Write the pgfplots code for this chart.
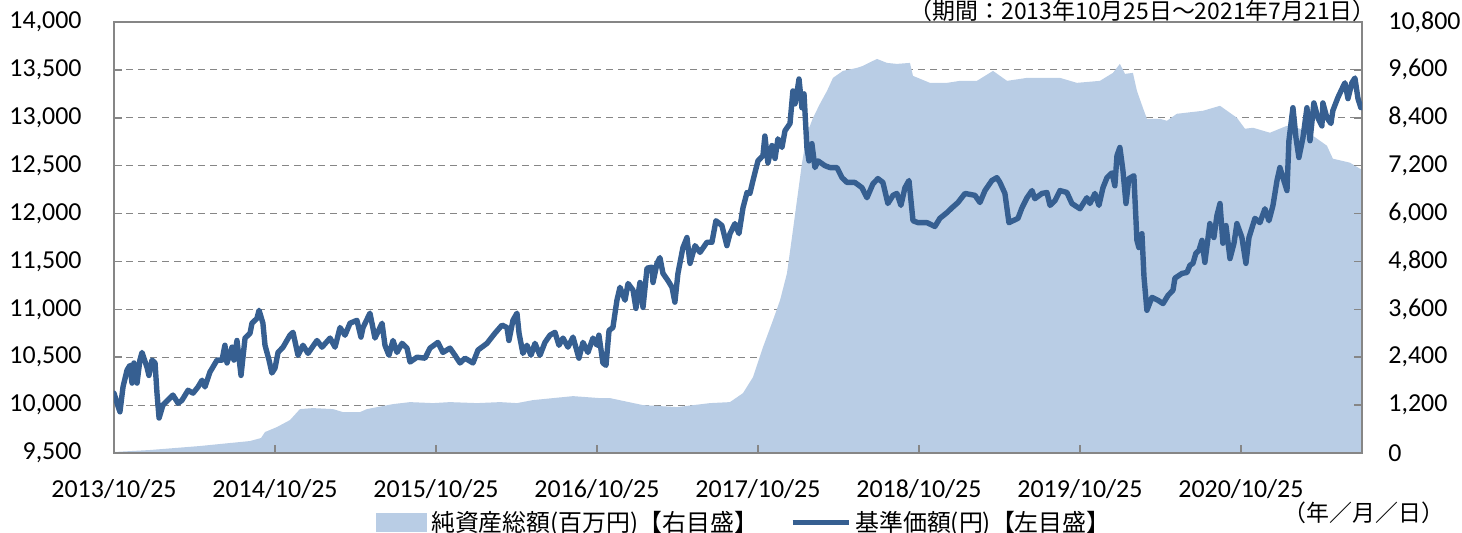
\documentclass[border=0pt]{standalone}
\usepackage{pgfplots}
\pgfplotsset{compat=1.18}
\usepackage{pgfplotstable}
\usepackage{fontspec}
\setmainfont{Carlito}
\newfontfamily\jp{Noto Sans CJK JP}
\definecolor{navcol}{RGB}{54,95,145}
\definecolor{areacol}{RGB}{185,205,229}
\definecolor{axgray}{RGB}{134,134,134}

\pgfplotstableread{
x y
0.000 10125
0.019 10020
0.037 9930
0.056 10190
0.081 10365
0.099 10415
0.112 10230
0.124 10440
0.143 10230
0.161 10470
0.174 10550
0.205 10395
0.217 10310
0.236 10470
0.255 10440
0.267 10125
0.280 9865
0.304 10000
0.348 10075
0.366 10105
0.398 10020
0.422 10050
0.460 10155
0.491 10125
0.522 10190
0.547 10260
0.565 10190
0.596 10345
0.640 10470
0.671 10470
0.689 10625
0.702 10440
0.733 10605
0.745 10470
0.764 10675
0.789 10310
0.814 10700
0.845 10750
0.857 10855
0.888 10905
0.901 10990
0.925 10855
0.938 10625
0.963 10470
0.981 10335
1.000 10385
1.019 10550
1.050 10605
1.093 10730
1.112 10760
1.143 10520
1.174 10625
1.205 10540
1.261 10675
1.292 10605
1.342 10700
1.373 10605
1.404 10810
1.435 10730
1.466 10855
1.509 10885
1.534 10710
1.547 10810
1.590 10960
1.621 10700
1.665 10855
1.683 10625
1.708 10520
1.733 10675
1.758 10550
1.789 10645
1.820 10595
1.839 10450
1.882 10500
1.932 10490
1.963 10595
2.012 10655
2.043 10550
2.087 10595
2.118 10520
2.149 10440
2.180 10490
2.230 10440
2.261 10575
2.317 10645
2.366 10750
2.410 10835
2.441 10810
2.453 10675
2.478 10885
2.503 10960
2.516 10750
2.540 10540
2.565 10625
2.590 10520
2.615 10645
2.646 10520
2.677 10655
2.708 10730
2.739 10760
2.764 10625
2.789 10700
2.820 10605
2.851 10710
2.888 10490
2.913 10655
2.944 10550
2.975 10700
3.000 10625
3.012 10730
3.037 10440
3.056 10415
3.075 10780
3.099 10810
3.124 11095
3.143 11230
3.174 11095
3.193 11270
3.224 11200
3.242 11010
3.267 11280
3.286 11020
3.311 11430
3.342 11440
3.348 11280
3.373 11480
3.391 11540
3.410 11375
3.441 11300
3.466 11230
3.484 11075
3.503 11375
3.534 11645
3.559 11750
3.578 11480
3.609 11665
3.640 11595
3.683 11700
3.714 11700
3.739 11925
3.776 11875
3.807 11665
3.826 11790
3.857 11895
3.882 11790
3.907 12060
3.932 12220
3.950 12210
3.969 12345
4.000 12550
4.031 12605
4.043 12810
4.062 12530
4.087 12710
4.106 12575
4.124 12780
4.149 12690
4.168 12865
4.199 12940
4.217 13280
4.230 13145
4.242 13260
4.255 13405
4.273 13105
4.286 13250
4.304 12690
4.317 12550
4.335 12730
4.354 12480
4.373 12550
4.416 12500
4.447 12480
4.491 12480
4.522 12375
4.553 12325
4.602 12325
4.646 12270
4.677 12165
4.714 12310
4.745 12365
4.776 12325
4.807 12105
4.839 12190
4.863 12210
4.888 12085
4.913 12270
4.938 12345
4.963 11925
4.994 11905
5.050 11905
5.099 11865
5.130 11950
5.174 12010
5.205 12060
5.242 12115
5.286 12210
5.348 12190
5.379 12115
5.410 12240
5.453 12345
5.484 12375
5.503 12325
5.534 12210
5.559 11905
5.584 11925
5.615 11950
5.640 12060
5.671 12165
5.702 12240
5.720 12155
5.764 12210
5.795 12220
5.814 12085
5.845 12135
5.876 12240
5.919 12220
5.950 12105
6.000 12050
6.043 12165
6.062 12105
6.093 12210
6.118 12085
6.143 12270
6.168 12375
6.199 12425
6.217 12290
6.230 12605
6.248 12690
6.267 12450
6.286 12105
6.304 12365
6.335 12395
6.354 11720
6.366 11645
6.385 11790
6.398 11335
6.416 10990
6.447 11125
6.484 11095
6.516 11060
6.547 11145
6.578 11200
6.590 11325
6.634 11375
6.665 11385
6.683 11460
6.702 11480
6.720 11585
6.739 11615
6.758 11720
6.776 11490
6.807 11895
6.832 11750
6.851 11980
6.870 12105
6.888 11690
6.907 11875
6.932 11530
6.957 11690
6.975 11895
7.006 11750
7.031 11480
7.050 11750
7.087 11950
7.118 11905
7.149 12050
7.174 11925
7.199 12085
7.224 12345
7.242 12480
7.261 12375
7.286 12240
7.298 12760
7.323 13105
7.342 12790
7.360 12585
7.385 12790
7.410 13105
7.429 12760
7.453 13155
7.478 13000
7.503 12915
7.509 13155
7.534 13000
7.559 12940
7.571 13075
7.602 13210
7.627 13300
7.646 13365
7.665 13200
7.689 13365
7.708 13415
7.727 13200
7.745 13105
}\navdata

\pgfplotstableread{
x y
0.000 25
0.224 75
0.534 175
0.845 300
0.913 375
0.938 525
1.012 650
1.093 825
1.155 1100
1.236 1125
1.360 1100
1.422 1025
1.528 1025
1.571 1100
1.733 1225
1.839 1275
1.981 1250
2.087 1275
2.255 1250
2.398 1275
2.503 1250
2.602 1325
2.851 1425
3.019 1375
3.081 1375
3.286 1200
3.497 1150
3.702 1250
3.826 1275
3.907 1500
3.969 1900
4.031 2650
4.093 3325
4.137 3825
4.180 4500
4.211 5400
4.242 6325
4.273 7250
4.304 8000
4.342 8400
4.385 8750
4.429 9075
4.466 9400
4.528 9575
4.615 9650
4.652 9700
4.739 9875
4.801 9775
4.863 9750
4.944 9775
4.963 9450
5.068 9275
5.174 9275
5.255 9325
5.360 9325
5.460 9575
5.547 9325
5.671 9400
5.876 9400
5.981 9275
6.124 9325
6.205 9525
6.248 9750
6.280 9500
6.329 9525
6.354 9075
6.391 8650
6.416 8375
6.497 8375
6.540 8325
6.602 8500
6.764 8575
6.870 8700
6.975 8400
7.025 8125
7.075 8150
7.180 8025
7.286 8200
7.366 8125
7.447 7950
7.534 7700
7.571 7375
7.677 7275
7.739 7125
7.752 7100
}\assetdata

\pgfplotsset{
  base/.style={
    width=624bp, height=215.5bp, scale only axis,
    at={(0,0)}, anchor=south west,
    xmin=0, xmax=7.752,
    xtick={0,1,2,3,4,5,6,7},
    tick align=inside,
    major tick length=4bp,
    axis line style={draw=axgray, line width=0.8bp},
    tick style={draw=axgray, line width=0.8bp},
    scaled y ticks=false,
    /pgf/number format/assume math mode=true,
    /pgf/number format/1000 sep={,},
    tick label style={font=\fontsize{13}{15}\selectfont},
  },
  leftscale/.style={ymin=9500, ymax=14000, ytick={9500,10000,...,14000}},
}

\begin{document}
\begin{tikzpicture}
% grid only
\begin{axis}[base, leftscale,
  axis line style={draw=none}, major tick length=0pt,
  xticklabels={}, yticklabels={},
  ymajorgrids,
  grid style={draw=axgray, line width=0.6bp, dash pattern=on 3.5bp off 2.5bp}]
\end{axis}
% net assets (right scale)
\begin{axis}[base, ymin=0, ymax=10800, ytick={0,1200,...,10800},
  axis x line=none, axis y line*=right, axis on top,
  yticklabel style={anchor=west, inner sep=0pt, xshift=13bp}]
\addplot[fill=areacol, draw=none] table[x=x,y=y] {\assetdata} \closedcycle;
\end{axis}
% NAV (left scale)
\begin{axis}[base, leftscale,
  ytick pos=left, xtick pos=bottom,
  xticklabels={2013/10/25,2014/10/25,2015/10/25,2016/10/25,2017/10/25,2018/10/25,2019/10/25,2020/10/25},
  yticklabel style={anchor=east, inner sep=0pt, xshift=-16bp},
  xticklabel style={anchor=north, inner sep=0pt, yshift=-13bp},
  legend columns=2,
  legend style={at={(0.506,-0.162)}, anchor=center, draw=none, fill=none,
    font=\jp\fontsize{12}{14}\selectfont,
    /tikz/every even column/.append style={column sep=14bp},
    cells={anchor=west}},
  ]
\addlegendimage{legend image code/.code={\fill[areacol] (0bp,-4.5bp) rectangle (25bp,4.5bp);}}
\addlegendentry{純資産総額(百万円)【右目盛】}
\addlegendimage{legend image code/.code={\draw[navcol, line width=2.6bp] (0bp,0bp) -- (28bp,0bp);}}
\addlegendentry{基準価額(円)【左目盛】}
\addplot[navcol, line width=2.7bp, line join=round, line cap=round] table[x=x,y=y] {\navdata};
\end{axis}
\node[anchor=east, inner sep=0pt, font=\jp\fontsize{11.5}{13}\selectfont] at (631bp,221bp) {（期間：2013年10月25日～2021年7月21日）};
\node[anchor=center, inner sep=0pt, font=\jp\fontsize{11.5}{13}\selectfont] at (625bp,-30bp) {（年／月／日）};
\pgfresetboundingbox
\path[use as bounding box] (-57bp,-40bp) rectangle (674bp,226.5bp);
\end{tikzpicture}
\end{document}
